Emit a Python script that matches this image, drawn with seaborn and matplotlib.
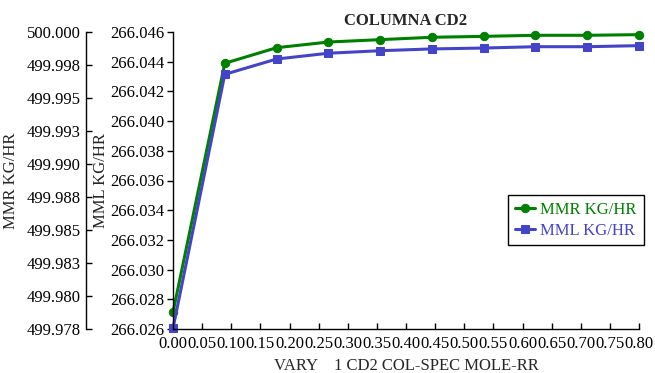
import matplotlib
matplotlib.use("Agg")
import matplotlib.pyplot as plt
import seaborn as sns
import pandas as pd

# ---- data ----
vary_rr = [0.0, 0.0889, 0.1778, 0.2667, 0.3556, 0.4444, 0.5333, 0.6222, 0.7111, 0.8]
mmr_kg_hr = [499.97877, 499.99763, 499.99881, 499.99924, 499.99942, 499.99960,
             499.99967, 499.99975, 499.99975, 499.99980]
mml_kg_hr = [266.02605, 266.04315, 266.04418, 266.04457, 266.04474, 266.04486,
             266.04492, 266.04501, 266.04501, 266.04508]
x_ticks = [0.00, 0.05, 0.10, 0.15, 0.20, 0.25, 0.30, 0.35, 0.40, 0.45, 0.50,
           0.55, 0.60, 0.65, 0.70, 0.75, 0.80]
mml_ticks = [266.026, 266.028, 266.030, 266.032, 266.034, 266.036, 266.038,
             266.040, 266.042, 266.044, 266.046]
mmr_ticks = [499.9775, 499.9800, 499.9825, 499.9850, 499.9875, 499.9900,
             499.9925, 499.9950, 499.9975, 500.0000]
mmr_tick_labels = ["499.978", "499.980", "499.983", "499.985", "499.988",
                   "499.990", "499.993", "499.995", "499.998", "500.000"]

df = pd.DataFrame({"x": vary_rr, "mmr": mmr_kg_hr, "mml": mml_kg_hr})

sns.set_theme(style="white")
plt.rcParams["font.family"] = ["Liberation Serif", "DejaVu Serif"]

W, H = 655, 373
X0, X1, Y0, Y1 = 173, 639, 32, 329      # inner plot area in pixels
XO = 86                                  # outer (MMR) axis spine in pixels
XMIN, XMAX = 0.0, 0.8

fig = plt.figure(figsize=(W / 100, H / 100), dpi=100)

# outer axes: only its left spine is shown, x-range extended so data align
ax_o = fig.add_axes([XO / W, (H - Y1) / H, (X1 - XO) / W, (Y1 - Y0) / H])
ax_o.patch.set_alpha(0)
ax = fig.add_axes([X0 / W, (H - Y1) / H, (X1 - X0) / W, (Y1 - Y0) / H])
ax.patch.set_alpha(0)

green = "#008000"
blue = "#4444C8"

sns.lineplot(data=df, x="x", y="mmr", ax=ax_o, color=green, marker="o",
             markersize=6, linewidth=2.2, markeredgecolor=green,
             label="MMR KG/HR", legend=False, clip_on=False)
sns.lineplot(data=df, x="x", y="mml", ax=ax, color=blue, marker="s",
             markersize=6, linewidth=2.2, markeredgecolor=blue,
             label="MML KG/HR", legend=False, clip_on=False)

# outer axis
scale = (X1 - X0) / (XMAX - XMIN)
ax_o.set_xlim(XMIN - (X0 - XO) / scale, XMAX)
ax_o.set_ylim(499.9775, 500.0)
ax_o.set_xticks([])
ax_o.set_xlabel("")
for s in ["top", "right", "bottom"]:
    ax_o.spines[s].set_visible(False)
ax_o.spines["left"].set_color("black")
ax_o.spines["left"].set_linewidth(1)
ax_o.set_yticks(mmr_ticks)
ax_o.set_yticklabels(mmr_tick_labels)
ax_o.tick_params(axis="y", direction="in", length=4, width=1, colors="black",
                 labelsize=12, pad=4, left=True)
ax_o.set_ylabel("MMR KG/HR", fontsize=12, labelpad=5)
ax_o.grid(False)

# inner axis (MML)
ax.set_xlim(XMIN, XMAX)
ax.set_ylim(266.026, 266.046)
ax.set_xticks(x_ticks)
ax.set_xticklabels([f"{v:.2f}" for v in x_ticks])
ax.set_yticks(mml_ticks)
ax.set_yticklabels([f"{v:.3f}" for v in mml_ticks])
ax.tick_params(axis="x", direction="in", length=4, width=1, colors="black",
               labelsize=12, pad=5, bottom=True)
ax.tick_params(axis="y", direction="out", length=4, width=1, colors="black",
               labelsize=12, pad=2, left=True)
for s in ["top", "right"]:
    ax.spines[s].set_visible(False)
for s in ["left", "bottom"]:
    ax.spines[s].set_color("black")
    ax.spines[s].set_linewidth(1)
ax.set_xlabel("VARY    1 CD2 COL-SPEC MOLE-RR", fontsize=12, labelpad=4)
ax.set_ylabel("MML KG/HR", fontsize=12, labelpad=1)
ax.set_title("COLUMNA CD2", fontsize=12, fontweight="bold", pad=5)
ax.grid(False)

h1, l1 = ax_o.get_legend_handles_labels()
h2, l2 = ax.get_legend_handles_labels()
leg = ax.legend(h1 + h2, l1 + l2, loc="upper left",
                bbox_to_anchor=((508 - X0) / (X1 - X0), (Y1 - 195) / (Y1 - Y0)),
                borderaxespad=0, fontsize=12, frameon=True, fancybox=False,
                framealpha=1, edgecolor="black", labelcolor="linecolor",
                handlelength=1.2, borderpad=0.4, labelspacing=0.3,
                handletextpad=0.35)
leg.get_frame().set_linewidth(1)
leg.set_zorder(10)

fig.savefig("out.png", dpi=100, facecolor="white")
